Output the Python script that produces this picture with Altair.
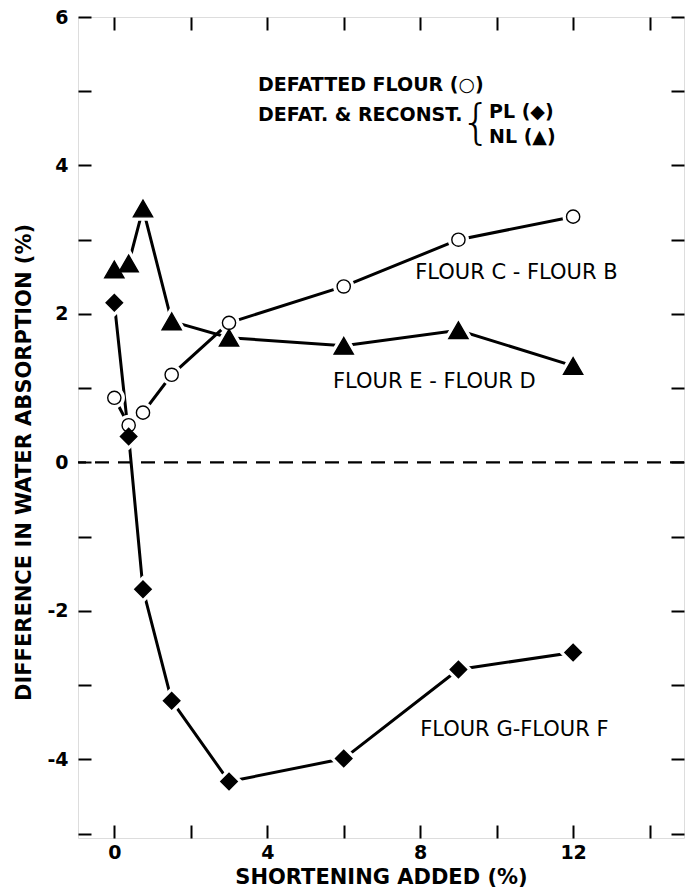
import altair as alt
import pandas as pd

# ---- data ----
shortening = [0, 0.375, 0.75, 1.5, 3, 6, 9, 12]
defatted_c_minus_b = [0.87, 0.50, 0.67, 1.18, 1.88, 2.37, 3.00, 3.31]
reconst_pl_g_minus_f = [2.15, 0.35, -1.71, -3.21, -4.30, -3.99, -2.79, -2.56]
reconst_nl_e_minus_d = [2.60, 2.68, 3.42, 1.90, 1.68, 1.57, 1.78, 1.30]

series_names = ["Defatted flour", "Defat. & reconst. PL", "Defat. & reconst. NL"]
series_values = [defatted_c_minus_b, reconst_pl_g_minus_f, reconst_nl_e_minus_d]
series_shapes = ["circle", "diamond", "triangle-up"]
series_fills = ["white", "black", "black"]
series_sizes = [175, 370, 330]

x_tick_values = [0, 2, 4, 6, 8, 10, 12, 14]
x_label_values = [0, 4, 8, 12]
y_tick_values = [-5, -4, -3, -2, -1, 0, 1, 2, 3, 4, 5, 6]
y_label_values = [-4, -2, 0, 2, 4, 6]

x_domain = [-0.95, 14.9]
y_domain = [-5.06, 6.0]

label_texts = ["FLOUR C - FLOUR B", "FLOUR E - FLOUR D", "FLOUR G-FLOUR F"]
label_x = [7.87, 5.72, 8.0]
label_y = [2.55, 1.08, -3.61]

legend_texts = ["DEFATTED FLOUR (\u25cb)", "DEFAT. & RECONST.", "PL (\u25c6)", "NL (\u25b2)"]
legend_x = [3.76, 3.76, 9.8, 9.8]
legend_y = [5.08, 4.68, 4.72, 4.39]

brace_text = ["{"]
brace_x = [9.86]
brace_y = [4.55]

# ---- tables ----
rows = []
for name, vals in zip(series_names, series_values):
    for xv, yv in zip(shortening, vals):
        rows.append({"series": name, "x": xv, "y": yv})
df = pd.DataFrame(rows)
labels_df = pd.DataFrame({"text": label_texts, "x": label_x, "y": label_y})
legend_df = pd.DataFrame({"text": legend_texts, "x": legend_x, "y": legend_y})
brace_df = pd.DataFrame({"text": brace_text, "x": brace_x, "y": brace_y})
zero_df = pd.DataFrame({"y": [0]})

xs = alt.Scale(domain=x_domain, nice=False, zero=False)
ys = alt.Scale(domain=y_domain, nice=False, zero=False)
shape_scale = alt.Scale(domain=series_names, range=series_shapes)
fill_scale = alt.Scale(domain=series_names, range=series_fills)
size_scale = alt.Scale(domain=series_names, range=series_sizes)

FONT = "DejaVu Sans"
TICK = 13

y_label_expr = (
    f"indexof({y_label_values}, datum.value) >= 0 ? replace(datum.label, '\u2212', '-') : ''"
)
x_label_expr = f"indexof({x_label_values}, datum.value) >= 0 ? datum.label : ''"

left_axis = alt.Axis(
    orient="left", values=y_tick_values, labelExpr=y_label_expr, tickSize=TICK,
    offset=-TICK, domain=False, grid=False, tickColor="black", tickWidth=2,
    labelFont=FONT, labelFontWeight="bold", labelFontSize=19, labelColor="black",
    labelPadding=10, title="DIFFERENCE IN WATER ABSORPTION (%)", titleFont=FONT,
    titleFontSize=21, titleFontWeight="bold", titleColor="black",
    titleX=-67, titleY=445, titleAngle=270, titleBaseline="middle", titleAlign="center",
)
bottom_axis = alt.Axis(
    orient="bottom", values=x_tick_values, labelExpr=x_label_expr, tickSize=TICK,
    offset=-TICK, domain=False, grid=False, tickColor="black", tickWidth=2,
    labelFont=FONT, labelFontWeight="bold", labelFontSize=19, labelColor="black",
    labelPadding=5, title="SHORTENING ADDED (%)", titleFont=FONT, titleFontSize=21,
    titleFontWeight="bold", titleColor="black", titlePadding=4,
)
top_axis = alt.Axis(
    orient="top", values=x_tick_values, labels=False, tickSize=TICK, offset=-TICK,
    domain=False, grid=False, tickColor="black", tickWidth=2, title="",
)
right_axis = alt.Axis(
    orient="right", values=y_tick_values, labels=False, tickSize=TICK, offset=-TICK,
    domain=False, grid=False, tickColor="black", tickWidth=2, title="",
)

base = alt.Chart(df)

zero_line = alt.Chart(zero_df).mark_rule(
    color="black", strokeWidth=2.4, strokeDash=[14, 9]
).encode(y=alt.Y("y:Q", scale=ys, axis=None))

lines = base.mark_line(color="black", strokeWidth=3).encode(
    x=alt.X("x:Q", scale=xs, axis=None),
    y=alt.Y("y:Q", scale=ys, axis=None),
    detail="series:N",
    order="x:Q",
)

halo = base.mark_point(filled=True, fill="white", stroke="white", strokeWidth=8, opacity=1).encode(
    x=alt.X("x:Q", scale=xs, axis=None),
    y=alt.Y("y:Q", scale=ys, axis=None),
    shape=alt.Shape("series:N", scale=shape_scale, legend=None),
    size=alt.Size("series:N", scale=size_scale, legend=None),
)

markers = base.mark_point(filled=True, stroke="black", strokeWidth=1.4, opacity=1).encode(
    x=alt.X("x:Q", scale=xs, axis=bottom_axis),
    y=alt.Y("y:Q", scale=ys, axis=left_axis),
    shape=alt.Shape("series:N", scale=shape_scale, legend=None),
    fill=alt.Fill("series:N", scale=fill_scale, legend=None),
    size=alt.Size("series:N", scale=size_scale, legend=None),
)

frame_axes = base.mark_point(opacity=0).encode(
    x=alt.X("x:Q", scale=xs, axis=top_axis),
    y=alt.Y("y:Q", scale=ys, axis=right_axis),
)

series_labels = alt.Chart(labels_df).mark_text(
    align="left", baseline="middle", font=FONT, fontSize=21, color="black"
).encode(
    x=alt.X("x:Q", scale=xs, axis=None),
    y=alt.Y("y:Q", scale=ys, axis=None),
    text="text:N",
)

legend_text = alt.Chart(legend_df).mark_text(
    align="left", baseline="middle", font=FONT, fontSize=19, fontWeight="bold", color="black"
).encode(
    x=alt.X("x:Q", scale=xs, axis=None),
    y=alt.Y("y:Q", scale=ys, axis=None),
    text="text:N",
)

brace = alt.Chart(brace_df).mark_text(
    align="right", baseline="middle", font=FONT, fontSize=48, fontWeight=200, color="black"
).encode(
    x=alt.X("x:Q", scale=xs, axis=None),
    y=alt.Y("y:Q", scale=ys, axis=None),
    text="text:N",
)

chart = alt.layer(
    zero_line, lines, halo, markers, series_labels, legend_text, brace, frame_axes
).resolve_axis(x="independent", y="independent").properties(
    width=606, height=821, autosize="none",
    padding={"left": 78, "top": 17, "right": 3, "bottom": 49},
).configure_view(stroke="black", strokeWidth=2).configure(background="white")

chart.save("out.html", embed_options={"renderer": "svg", "actions": False})
